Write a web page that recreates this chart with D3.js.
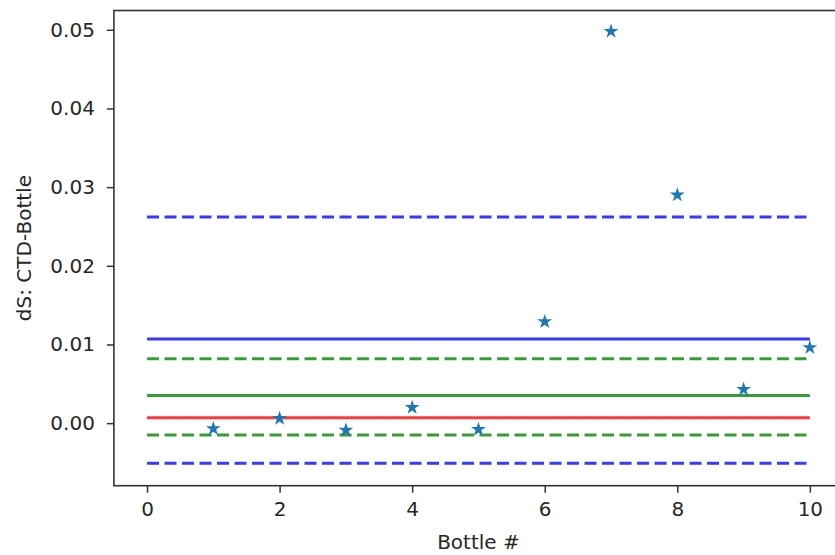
<!DOCTYPE html>
<html>
<head>
<meta charset="utf-8">
<script src="https://cdn.jsdelivr.net/npm/d3@7"></script>
<style>
  body { margin: 0; background: #fff; }
  svg { display: block; overflow: hidden; }
  text { font-family: "DejaVu Sans", sans-serif; }
</style>
</head>
<body>
<svg id="chart"></svg>
<script>
// data
var bottles = [1, 2, 3, 4, 5, 6, 7, 8, 9, 10];
var dS = [-0.0007, 0.0006, -0.0009, 0.0020, -0.0008, 0.0129, 0.0498, 0.0290, 0.0043, 0.0096];

var lineNames = ["blueUpper", "blueMean", "greenUpper", "greenMean", "overallMean", "greenLower", "blueLower"];
var lineValues = [0.0262, 0.0107, 0.0082, 0.0035, 0.0007, -0.0015, -0.0051];
var lineStart = 0, lineEnd = 10;

var xTicks = [0, 2, 4, 6, 8, 10];
var yTicks = [0.00, 0.01, 0.02, 0.03, 0.04, 0.05];

// styles
var lineStyle = {
  blueUpper:   {color: "#0000ff", dash: "12,5.5"},
  blueMean:    {color: "#0000ff", dash: null},
  blueLower:   {color: "#0000ff", dash: "12,5.5"},
  greenUpper:  {color: "#008000", dash: "12,5.5"},
  greenMean:   {color: "#008000", dash: null},
  greenLower:  {color: "#008000", dash: "12,5.5"},
  overallMean: {color: "#ff0000", dash: null}
};

var W = 835, H = 555;
var plot = {left: 113.9, right: 843, top: 10.5, bottom: 485.7};
var fontSize = "20px";

var svg = d3.select("#chart")
  .attr("width", W)
  .attr("height", H);

var x = d3.scaleLinear().domain([-0.5, 10.5]).range([plot.left, plot.right]);
var y = d3.scaleLinear().domain([-0.00795, 0.05245]).range([plot.bottom, plot.top]);

// horizontal reference lines
svg.append("g")
  .selectAll("line")
  .data(lineNames)
  .enter()
    .append("line")
      .attr("x1", x(lineStart))
      .attr("x2", x(lineEnd))
      .attr("y1", (d, i) => y(lineValues[i]))
      .attr("y2", (d, i) => y(lineValues[i]))
      .attr("stroke", d => lineStyle[d].color)
      .attr("stroke-opacity", 0.78)
      .attr("stroke-width", 3)
      .attr("stroke-dasharray", d => lineStyle[d].dash);

// star markers
var star = d3.symbol().type(d3.symbolStar).size(68);
svg.append("g")
  .selectAll("path")
  .data(bottles)
  .enter()
    .append("path")
      .attr("d", star)
      .attr("transform", (d, i) => "translate(" + x(d) + "," + y(dS[i]) + ")")
      .attr("fill", "#1f77b4");

// frame
svg.append("rect")
  .attr("x", plot.left)
  .attr("y", plot.top)
  .attr("width", plot.right - plot.left)
  .attr("height", plot.bottom - plot.top)
  .attr("fill", "none")
  .attr("stroke", "#333")
  .attr("stroke-width", 1.6);

// axes
var xAxis = svg.append("g")
  .attr("transform", "translate(0," + plot.bottom + ")")
  .call(d3.axisBottom(x).tickValues(xTicks).tickSize(7).tickPadding(9));

var yAxis = svg.append("g")
  .attr("transform", "translate(" + plot.left + ",0)")
  .call(d3.axisLeft(y).tickValues(yTicks).tickFormat(d3.format(".2f")).tickSize(7).tickPadding(12));

[xAxis, yAxis].forEach(a => {
  a.select(".domain").remove();
  a.selectAll(".tick line").attr("stroke", "#333").attr("stroke-width", 1.5);
  a.selectAll(".tick text")
    .attr("fill", "#262626")
    .style("font-size", fontSize)
    .style("font-family", "DejaVu Sans, sans-serif");
});

// labels
svg.append("text")
  .attr("x", (plot.left + plot.right) / 2)
  .attr("y", 549)
  .attr("text-anchor", "middle")
  .attr("fill", "#262626")
  .style("font-size", fontSize)
  .text("Bottle #");

svg.append("text")
  .attr("transform", "rotate(-90)")
  .attr("x", -(plot.top + plot.bottom) / 2)
  .attr("y", 31)
  .attr("text-anchor", "middle")
  .attr("fill", "#262626")
  .style("font-size", fontSize)
  .text("dS: CTD-Bottle");
</script>
</body>
</html>
